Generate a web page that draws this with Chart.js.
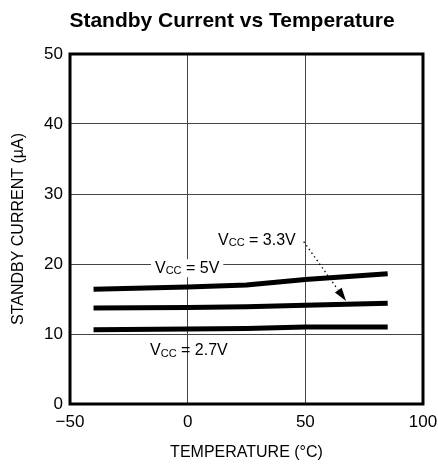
<!DOCTYPE html>
<html>
<head>
<meta charset="utf-8">
<script src="https://cdn.jsdelivr.net/npm/chart.js@4.4.0/dist/chart.umd.min.js"></script>
<style>
  html, body { margin: 0; padding: 0; background: #fff; }
  #wrap { width: 438px; height: 466px; }
</style>
</head>
<body>
<div id="wrap"><canvas id="standby" width="438" height="466"></canvas></div>
<script>
// Datos
const temps = [-40, 0, 25, 50, 85];
const vcc5 = [16.4, 16.7, 17.0, 17.8, 18.6];
const vcc33 = [13.7, 13.8, 13.9, 14.1, 14.4];
const vcc27 = [10.6, 10.7, 10.8, 11.0, 11.0];

const xTicks = [-50, 0, 50, 100];
const yTicks = [0, 10, 20, 30, 40, 50];

const FONT = "'Liberation Sans', Arial, sans-serif";

// etiquetas V_CC, posicion (inicio del texto, centro vertical) en unidades de datos
const labels = [
    { value: "3.3V", x: 12.9, y: 23.4, box: false },
    { value: "5V", x: -13.9, y: 19.4, box: true },
    { value: "2.7V", x: -16.0, y: 7.6, box: false }
];
const arrowFrom = { x: 49.3, y: 23.2 };
const arrowTo = { x: 67.3, y: 14.7 };

function toPoints(ys) {
    return temps.map((t, i) => ({ x: t, y: ys[i] }));
}

const annotations = {
    id: "annotations",
    afterDatasetsDraw(chart) {
        const ctx = chart.ctx;
        const xs = chart.scales.x;
        const ys = chart.scales.y;
        const area = chart.chartArea;

        // Marco grueso
        ctx.save();
        ctx.strokeStyle = "#000";
        ctx.lineWidth = 3;
        ctx.strokeRect(area.left, area.top, area.right - area.left, area.bottom - area.top);

        // Etiquetas V_CC
        ctx.textBaseline = "middle";
        labels.forEach(l => {
            const px = xs.getPixelForValue(l.x);
            const py = ys.getPixelForValue(l.y);
            ctx.font = "16px " + FONT;
            const wV = ctx.measureText("V").width;
            ctx.font = "11px " + FONT;
            const wCC = ctx.measureText("CC").width;
            ctx.font = "16px " + FONT;
            const rest = " = " + l.value;
            const wRest = ctx.measureText(rest).width;
            if (l.box) {
                ctx.fillStyle = "#fff";
                ctx.fillRect(px - 4, py - 9, wV + wCC + wRest + 8, 18);
            }
            ctx.fillStyle = "#000";
            ctx.textAlign = "left";
            ctx.fillText("V", px, py);
            ctx.font = "11px " + FONT;
            ctx.fillText("CC", px + wV, py + 3);
            ctx.font = "16px " + FONT;
            ctx.fillText(rest, px + wV + wCC, py);
        });

        // Flecha punteada
        const x1 = xs.getPixelForValue(arrowFrom.x);
        const y1 = ys.getPixelForValue(arrowFrom.y);
        const x2 = xs.getPixelForValue(arrowTo.x);
        const y2 = ys.getPixelForValue(arrowTo.y);
        const ang = Math.atan2(y2 - y1, x2 - x1);
        const head = 14;
        ctx.strokeStyle = "#000";
        ctx.lineWidth = 1.3;
        ctx.setLineDash([1.5, 3]);
        ctx.beginPath();
        ctx.moveTo(x1, y1);
        ctx.lineTo(x2 - head * Math.cos(ang), y2 - head * Math.sin(ang));
        ctx.stroke();
        ctx.setLineDash([]);
        ctx.fillStyle = "#000";
        ctx.beginPath();
        ctx.moveTo(x2, y2);
        ctx.lineTo(x2 - head * Math.cos(ang - 0.3), y2 - head * Math.sin(ang - 0.3));
        ctx.lineTo(x2 - head * Math.cos(ang + 0.3), y2 - head * Math.sin(ang + 0.3));
        ctx.closePath();
        ctx.fill();

        // Titulo
        ctx.font = "bold 21px " + FONT;
        ctx.textAlign = "center";
        ctx.textBaseline = "middle";
        ctx.fillText("Standby Current vs Temperature", 232, 21);
        ctx.restore();
    }
};

const ctxStandby = document.getElementById("standby").getContext("2d");
const lineStyle = {
    borderColor: "#000",
    backgroundColor: "#000",
    borderWidth: 5,
    pointRadius: 0,
    tension: 0,
    fill: false
};

new Chart(ctxStandby, {
    type: "line",
    data: {
        datasets: [
            { label: "VCC = 5V", data: toPoints(vcc5), ...lineStyle },
            { label: "VCC = 3.3V", data: toPoints(vcc33), ...lineStyle },
            { label: "VCC = 2.7V", data: toPoints(vcc27), ...lineStyle }
        ]
    },
    options: {
        responsive: false,
        animation: false,
        layout: { padding: { top: 54, right: 15, bottom: 0, left: 0 } },
        plugins: {
            legend: { display: false },
            title: { display: false },
            tooltip: { enabled: false }
        },
        scales: {
            x: {
                type: "linear",
                min: xTicks[0],
                max: xTicks[xTicks.length - 1],
                afterBuildTicks: s => { s.ticks = xTicks.map(v => ({ value: v })); },
                afterFit: s => { s.height = 62; s.paddingLeft = 0; s.paddingRight = 0; },
                grid: { color: "#444", lineWidth: 1, drawTicks: false },
                border: { display: false },
                ticks: {
                    color: "#000",
                    padding: 8,
                    font: { family: FONT, size: 17 },
                    callback: v => String(v).replace("-", "\u2212")
                },
                title: {
                    display: true,
                    text: "TEMPERATURE (°C)",
                    color: "#000",
                    font: { family: FONT, size: 16 },
                    padding: { top: 3 }
                }
            },
            y: {
                min: yTicks[0],
                max: yTicks[yTicks.length - 1],
                afterBuildTicks: s => { s.ticks = yTicks.map(v => ({ value: v })); },
                afterFit: s => { s.width = 70; },
                grid: { color: "#444", lineWidth: 1, drawTicks: false },
                border: { display: false },
                ticks: {
                    color: "#000",
                    padding: 7,
                    font: { family: FONT, size: 17 }
                },
                title: {
                    display: true,
                    text: "STANDBY CURRENT (µA)",
                    color: "#000",
                    font: { family: FONT, size: 16 },
                    padding: { top: 9, bottom: 0 }
                }
            }
        }
    },
    plugins: [annotations]
});
</script>
</body>
</html>
